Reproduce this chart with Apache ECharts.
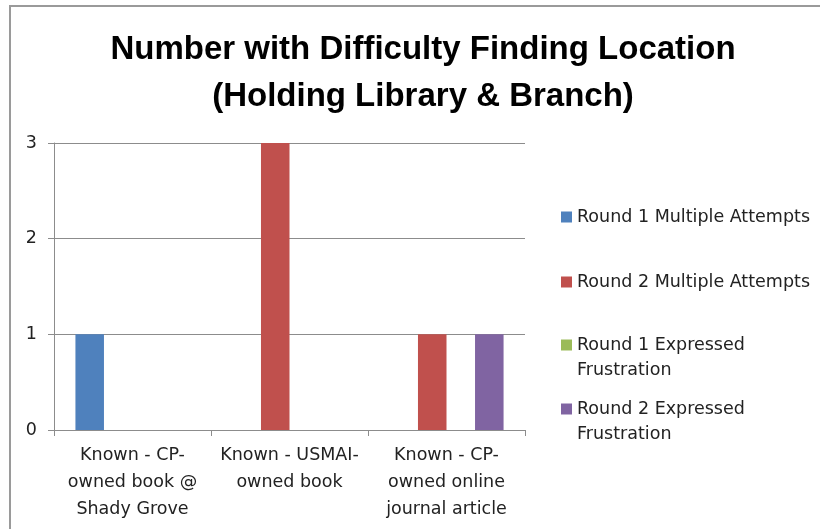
<!DOCTYPE html>
<html>
<head>
<meta charset="utf-8">
<script src="https://cdn.jsdelivr.net/npm/echarts@6/dist/echarts.min.js"></script>
<style>html,body{margin:0;padding:0;background:#fff}#c{width:820px;height:529px}</style>
</head>
<body>
<div id="c"></div>
<script>
var titleText = "Number with Difficulty Finding Location\n(Holding Library & Branch)";
var categories = ["Known - CP-\nowned book @\nShady Grove", "Known - USMAI-\nowned book", "Known - CP-\nowned online\njournal article"];
var seriesNames = ["Round 1 Multiple Attempts", "Round 2 Multiple Attempts", "Round 1 Expressed Frustration", "Round 2 Expressed Frustration"];
var round1Multiple = [1, 0, 0];
var round2Multiple = [0, 3, 1];
var round1Frustration = [0, 0, 0];
var round2Frustration = [0, 0, 1];
var yTicks = [0, 1, 2, 3];

var colors = ["#4F81BD", "#C0504D", "#9BBB59", "#8064A2"];
var values = [round1Multiple, round2Multiple, round1Frustration, round2Frustration];
var font = "DejaVu Sans";
var fs = 17.5;

var chart = echarts.init(document.getElementById('c'), null, {renderer: 'canvas'});

function legendFor(i, top, label) {
  return {
    data: [seriesNames[i]],
    orient: 'vertical',
    left: 561, top: top, padding: 0,
    itemWidth: 11, itemHeight: 11, itemGap: 0,
    icon: 'rect',
    selectedMode: false,
    formatter: function () { return label; },
    textStyle: {fontFamily: font, fontSize: fs, color: '#222', lineHeight: 26}
  };
}

var option = {
  animation: false,
  color: colors,
  title: {
    text: titleText,
    left: 423, top: 26, padding: 0, textAlign: 'center',
    textStyle: {fontFamily: 'Liberation Sans', fontWeight: 'bold', fontSize: 33, lineHeight: 47, color: '#000'}
  },
  legend: [
    legendFor(0, 204, "Round 1 Multiple Attempts"),
    legendFor(1, 269, "Round 2 Multiple Attempts"),
    legendFor(2, 332, "Round 1 Expressed"),
    legendFor(3, 396, "Round 2 Expressed")
  ],
  graphic: [
    {type: 'rect', silent: true, shape: {x: 10, y: 6, width: 900, height: 700},
     style: {fill: 'none', stroke: '#9a9a9a', lineWidth: 2}},
    {type: 'text', silent: true, left: 577, top: 361,
     style: {text: "Frustration", fontFamily: font, fontSize: fs, fill: '#222'}},
    {type: 'text', silent: true, left: 577, top: 425,
     style: {text: "Frustration", fontFamily: font, fontSize: fs, fill: '#222'}}
  ],
  grid: {left: 54, right: 295, top: 143, bottom: 99, containLabel: false},
  xAxis: {
    type: 'category',
    data: categories,
    axisLine: {lineStyle: {color: '#8c8c8c', width: 1}},
    axisTick: {show: true, length: 6, interval: 0, lineStyle: {color: '#8c8c8c'}},
    axisLabel: {interval: 0, fontFamily: font, fontSize: fs, color: '#222', lineHeight: 27, margin: 12}
  },
  yAxis: {
    type: 'value',
    min: yTicks[0], max: yTicks[yTicks.length - 1], interval: 1,
    axisLine: {show: true, lineStyle: {color: '#8c8c8c', width: 1}},
    axisTick: {show: true, length: 6, lineStyle: {color: '#8c8c8c'}},
    axisLabel: {fontFamily: font, fontSize: fs, color: '#222', margin: 17},
    splitLine: {show: true, lineStyle: {color: '#8c8c8c', width: 1}}
  },
  series: seriesNames.map(function (n, i) {
    return {
      name: n, type: 'bar', data: values[i],
      barGap: '0%', barCategoryGap: '27.3%',
      itemStyle: {color: colors[i]}
    };
  })
};
chart.setOption(option);
</script>
</body>
</html>
